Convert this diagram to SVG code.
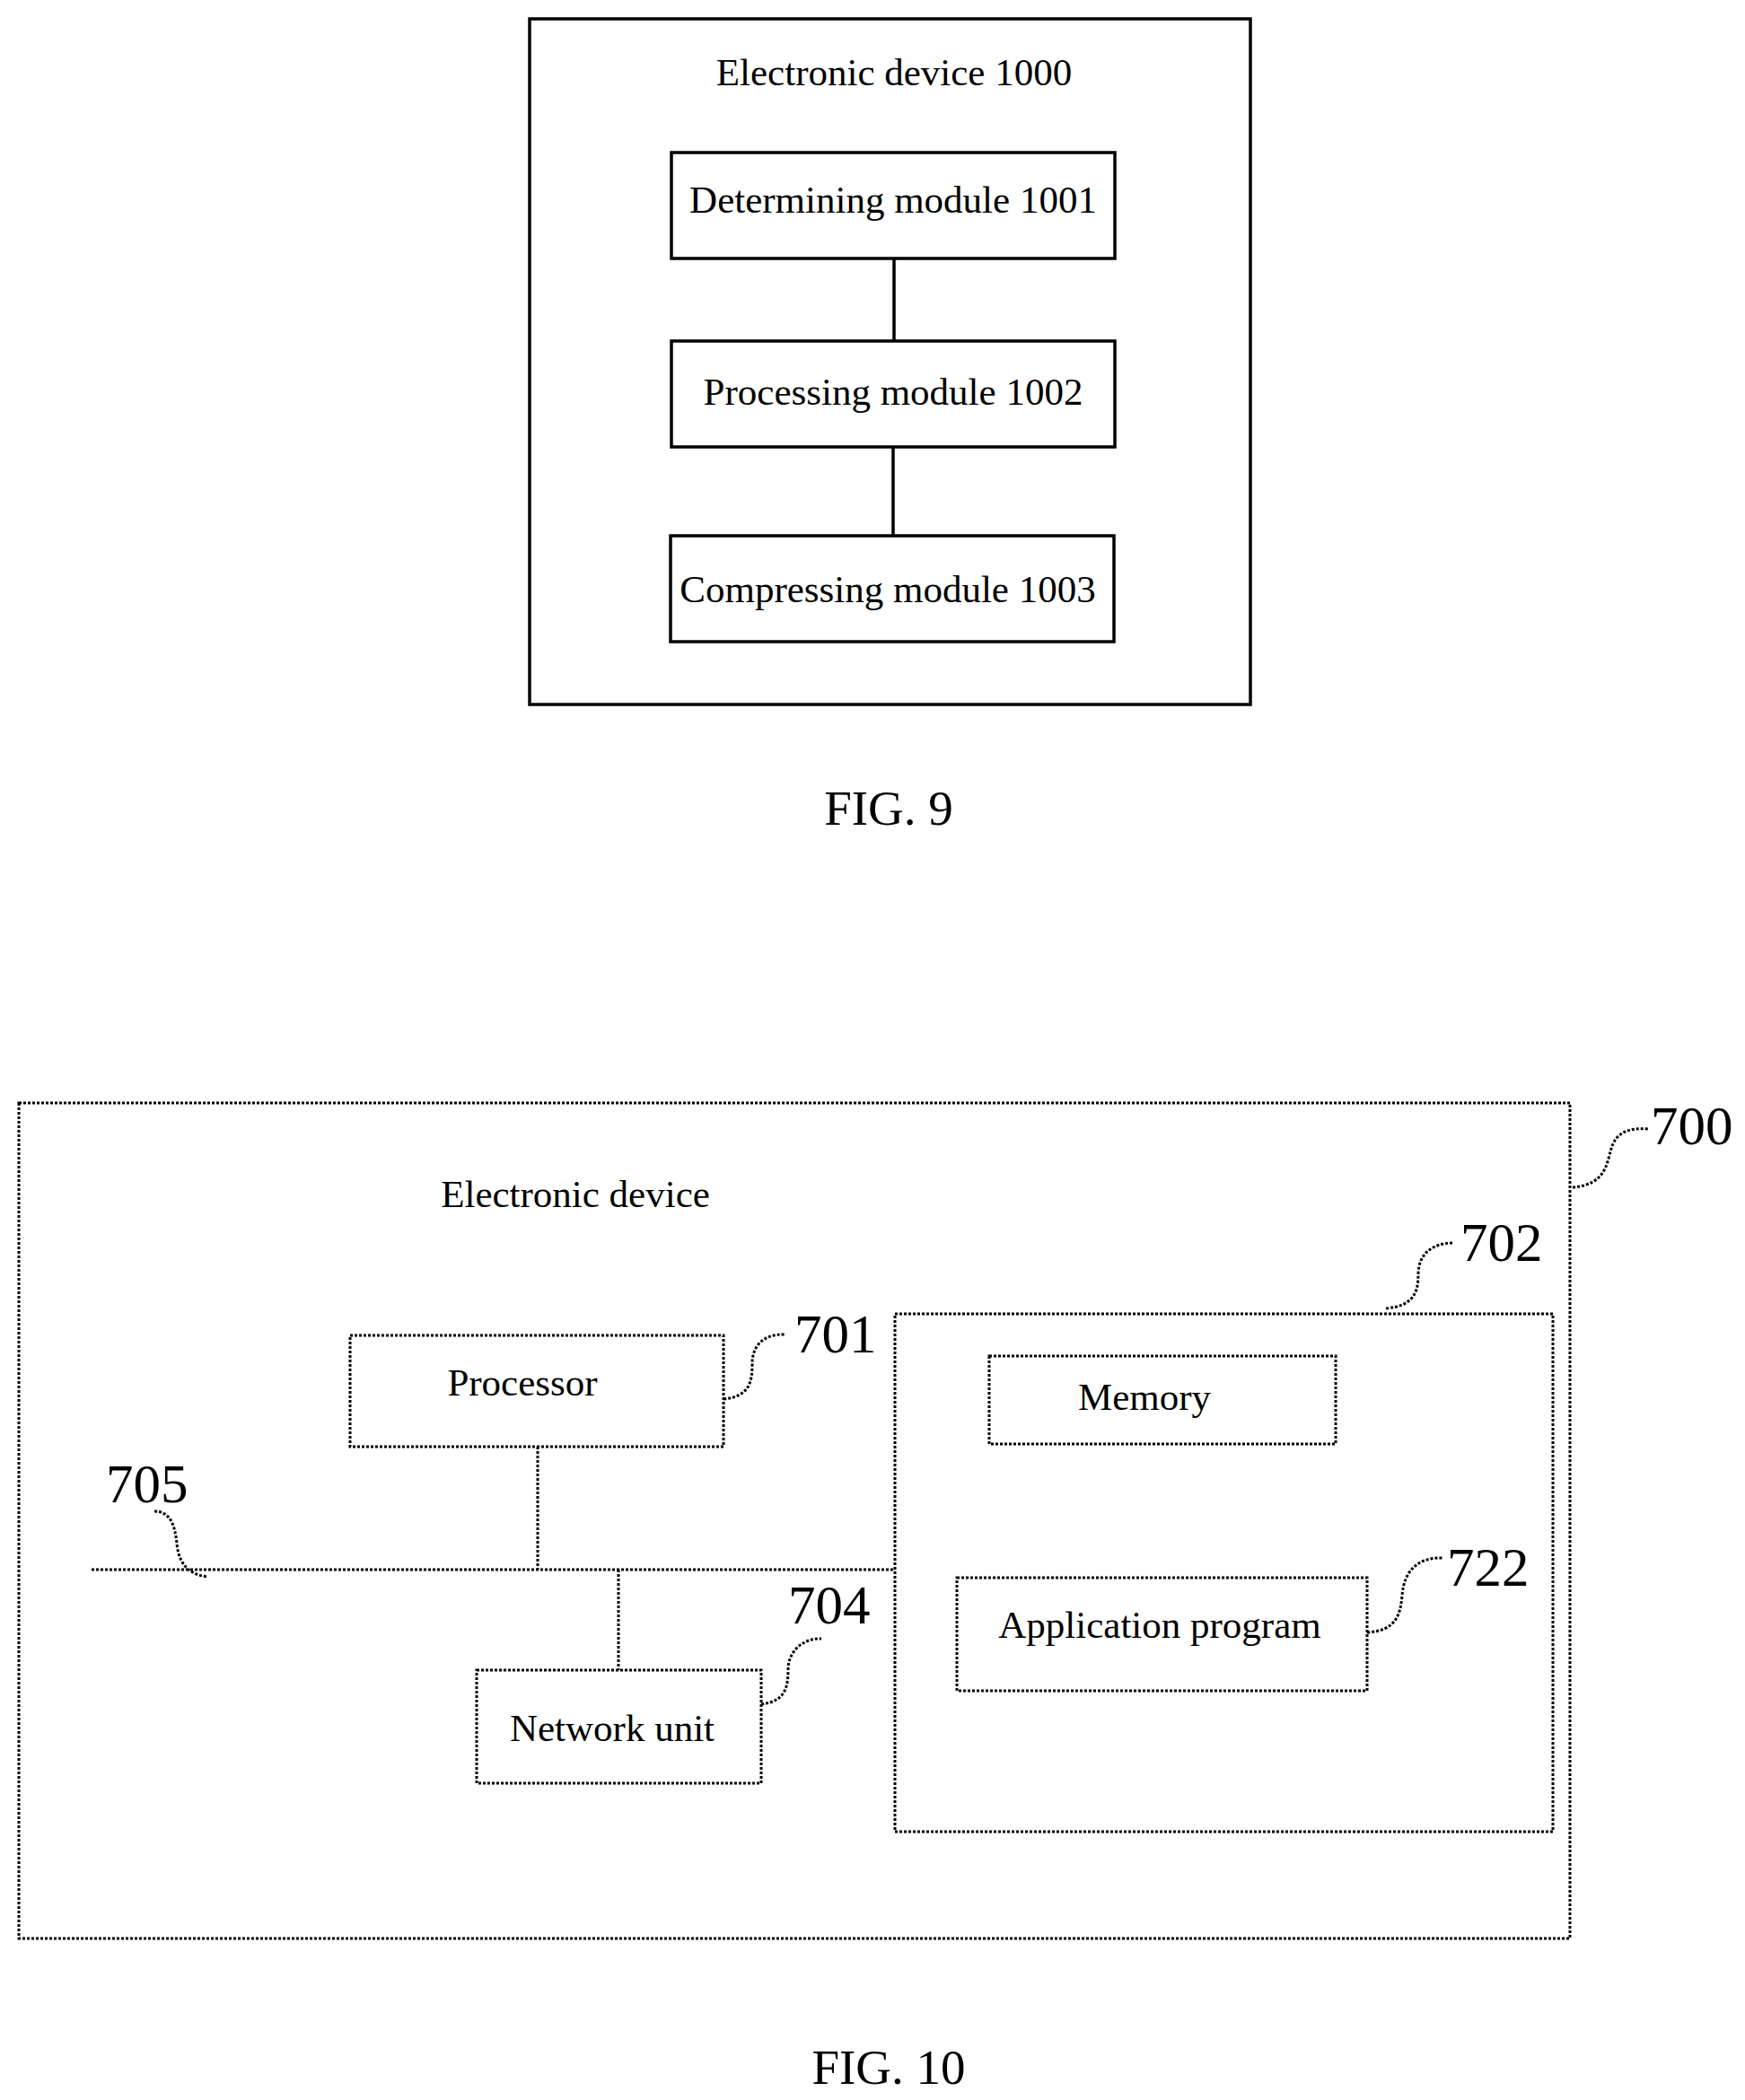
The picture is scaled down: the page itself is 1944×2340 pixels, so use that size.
<svg xmlns="http://www.w3.org/2000/svg" width="1944" height="2340" viewBox="0 0 1944 2340">
<style>
text{font-family:"Liberation Serif","Times New Roman",serif;fill:#000}
.s{fill:none;stroke:#000;stroke-width:3.5}
.d{fill:none;stroke:#000;stroke-width:3;stroke-dasharray:3 2}
.t{font-size:43px;text-anchor:middle}
.n{font-size:61px}
.f{font-size:55px;text-anchor:middle}
</style>
<rect width="1944" height="2340" fill="#fff"/>
<g id="device1000"><rect class="s" x="590" y="21" width="803" height="764"/><text class="t" x="996" y="95">Electronic device 1000</text></g>
<g id="m1001"><rect class="s" x="748" y="170" width="494" height="118"/><text class="t" x="995" y="237">Determining module 1001</text></g>
<g id="m1002"><rect class="s" x="748" y="380" width="494" height="118"/><text class="t" x="995" y="451">Processing module 1002</text></g>
<g id="m1003"><rect class="s" x="747" y="597" width="494" height="118"/><text class="t" x="989" y="671">Compressing module 1003</text></g>
<g id="connectors9"><line class="s" x1="996" y1="288" x2="996" y2="380"/><line class="s" x1="995" y1="498" x2="995" y2="597"/></g>
<text class="f" x="990" y="919">FIG. 9</text>

<g id="device700"><rect class="d" x="21" y="1229" width="1728" height="931"/><text class="t" x="641" y="1345">Electronic device</text>
<path class="d" d="M1752 1323 C1790 1320 1790 1295 1795 1280 C1800 1262 1815 1256 1836 1258"/><text class="n" x="1839" y="1275">700</text></g>
<g id="box702"><rect class="d" x="997" y="1464" width="733" height="577"/>
<path class="d" d="M1544 1458 C1575 1455 1580 1440 1580 1420 C1580 1398 1595 1385 1619 1385"/><text class="n" x="1627" y="1405">702</text></g>
<g id="processor"><rect class="d" x="390" y="1488" width="416" height="124"/><text class="t" x="582" y="1555">Processor</text>
<path class="d" d="M806 1559 C835 1556 838 1540 838 1520 C838 1498 852 1486 875 1487"/><text class="n" x="885" y="1507">701</text></g>
<g id="memory"><rect class="d" x="1102" y="1511" width="386" height="98"/><text class="t" x="1275" y="1571">Memory</text></g>
<g id="app"><rect class="d" x="1066" y="1758" width="457" height="126"/><text class="t" x="1292" y="1825">Application program</text>
<path class="d" d="M1523 1819 C1555 1817 1560 1800 1562 1778 C1564 1750 1580 1735 1607 1736"/><text class="n" x="1612" y="1767">722</text></g>
<g id="network"><rect class="d" x="531" y="1861" width="317" height="126"/><text class="t" x="682" y="1940">Network unit</text>
<path class="d" d="M848 1899 C875 1896 878 1880 878 1860 C878 1840 895 1825 915 1826"/><text class="n" x="878" y="1809">704</text></g>
<g id="bus705"><text class="n" x="118" y="1674">705</text>
<path class="d" d="M172 1684 C190 1684 195 1700 197 1720 C199 1742 210 1755 232 1757"/></g>
<g id="connectors10">
<line class="d" x1="102" y1="1749" x2="997" y2="1749"/>
<line class="d" x1="599" y1="1612" x2="599" y2="1749"/>
<line class="d" x1="689" y1="1749" x2="689" y2="1861"/>
</g>
<text class="f" x="990" y="2322">FIG. 10</text>
</svg>
